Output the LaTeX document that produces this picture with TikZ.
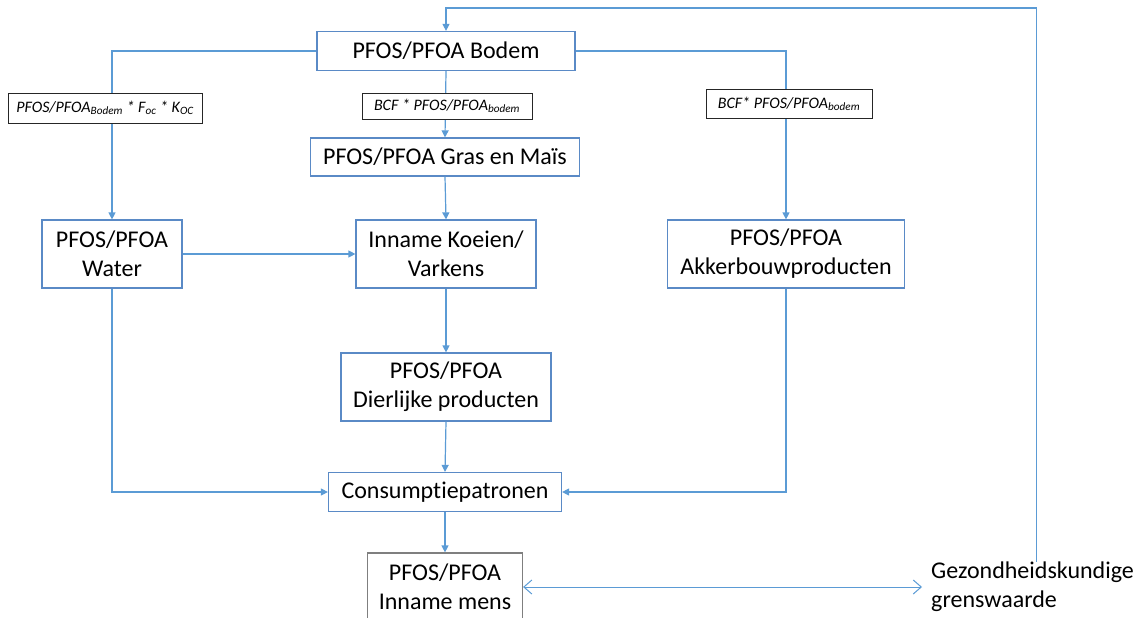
\documentclass[tikz,border=0pt]{standalone}
\usepackage{fontspec}
\setmainfont[Ligatures=NoCommon]{Carlito}
\usepackage{xcolor}
\usetikzlibrary{arrows.meta, positioning}

\definecolor{lijnblauw}{HTML}{5B9BD5}
\definecolor{randblauw}{HTML}{5A8AC6}
\definecolor{randgrijs}{HTML}{7F7F7F}

\begin{document}
\begin{tikzpicture}[x=1pt, y=-1pt, >={Triangle[length=7pt, width=7pt]},
	font=\fontsize{24}{29}\selectfont,
	blok/.style={draw=randblauw, line width=1.2pt, fill=white, align=center, inner sep=0pt},
	formule/.style={draw=black!85, line width=1pt, fill=white, inner sep=0pt,
		font=\fontsize{16}{19}\selectfont\itshape},
	pijl/.style={draw=lijnblauw, line width=1.2pt, ->}]
			\useasboundingbox (0,0) rectangle (1146,618);
			% bodem at the top
			\node[blok, minimum width=258pt, minimum height=39pt] (bodem) at (446,51)
			{PFOS/PFOA Bodem};
			% second row
			\node[blok, minimum width=269pt, minimum height=38pt] (gras) at (445,157)
			{PFOS/PFOA Gras en Maïs};
			% third row
			\node[blok, minimum width=140pt, minimum height=68pt] (water) at (112,254)
			{PFOS/PFOA\\Water};
			\node[blok, minimum width=180pt, minimum height=68pt] (koeien) at (446,254)
			{Inname Koeien/\\Varkens};
			\node[blok, minimum width=237pt, minimum height=68pt] (akker) at (786,254)
			{PFOS/PFOA\\Akkerbouwproducten};
			% animal products and consumption
			\node[blok, minimum width=210pt, minimum height=68pt] (dier) at (446,387)
			{PFOS/PFOA\\Dierlijke producten};
			\node[blok, minimum width=233pt, minimum height=39pt] (consump) at (445,492)
			{Consumptiepatronen};
			% human intake, cut off at the bottom
			\node[blok, draw=randgrijs, minimum width=155pt, minimum height=68pt] (mens) at (445,587)
			{PFOS/PFOA\\Inname mens};
			\node[anchor=west, align=left, inner xsep=9pt, inner ysep=0pt] (gezond) at (922,587)
			{Gezondheidskundige\\grenswaarde};
			% connectors from bodem
			\draw[pijl] (bodem.west) -| (water.north);
			\draw[pijl] (bodem.south) -- (gras.north);
			\draw[pijl] (bodem.east) -| (akker.north);
			% connectors in the middle
			\draw[pijl] (gras.south) -- (koeien.north);
			\draw[pijl] (water.east) -- (koeien.west);
			\draw[pijl] (koeien.south) -- (dier.north);
			\draw[pijl] (dier.south) -- (consump.north);
			\draw[pijl] (water.south) |- (consump.west);
			\draw[pijl] (akker.south) |- (consump.east);
			\draw[pijl] (consump.south) -- (mens.north);
			% limit value: both ways, and back up to bodem
			\draw[draw=lijnblauw, line width=1pt,
			{Straight Barb[length=8pt, width=14pt]}-{Straight Barb[length=8pt, width=14pt]}]
			(mens.east) -- (gezond.west);
			\coordinate (retour) at (446,8);
			\draw[pijl] ([xshift=4pt]gezond.north) |- (retour) -- (bodem.north);
			% formulas on the lines
			\node[formule, minimum width=194pt, minimum height=30pt] (fwater) at (105,108)
			{PFOS/PFOA\textsubscript{Bodem} * F\textsubscript{oc} * K\textsubscript{OC}};
			\node[formule, minimum width=170pt, minimum height=26pt] (fgras) at (447,106)
			{BCF * PFOS/PFOA\textsubscript{bodem}};
			\node[formule, minimum width=166pt, minimum height=29pt] (fakker) at (789,104)
			{BCF* PFOS/PFOA\textsubscript{bodem}};
		\end{tikzpicture}
\end{document}
